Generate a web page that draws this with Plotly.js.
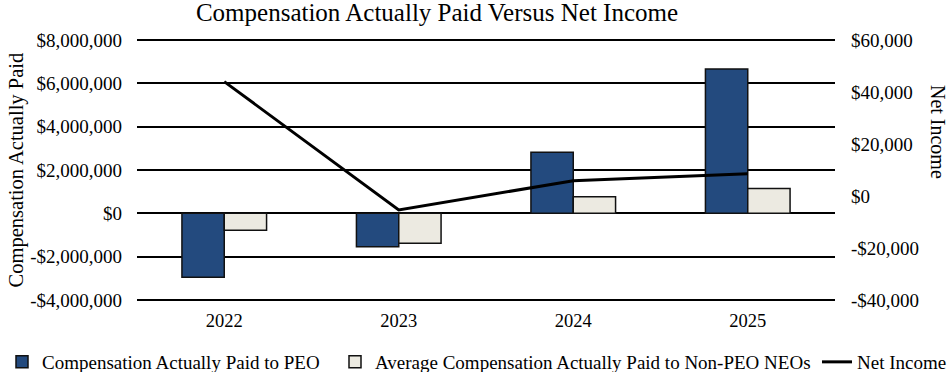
<!DOCTYPE html>
<html>
<head>
<meta charset="utf-8">
<script src="https://cdn.plot.ly/plotly-3.0.1.min.js"></script>
<style>html,body{margin:0;padding:0;background:#fff;}#chart{width:950px;height:372px;}</style>
</head>
<body>
<div id="chart"></div>
<script>
const years = ['2022', '2023', '2024', '2025'];
const capPEO = [-2950000, -1540000, 2820000, 6660000];
const capNEO = [-780000, -1380000, 770000, 1150000];
const netIncome = [44000, -5400, 5900, 8600];
const leftTicks = [-4000000, -2000000, 0, 2000000, 4000000, 6000000, 8000000];
const rightTicks = [-40000, -20000, 0, 20000, 40000, 60000];

function money(v) {
  const s = Math.abs(v).toLocaleString('en-US');
  return (v < 0 ? '-$' : '$') + s;
}

const FONT = 'Liberation Serif, Times New Roman, serif';
// pad the ranges by 2px each side so the edge gridlines are not clipped
const PAD_PX = 2, PLOT_H = 260;
const lPad = (8000000 - (-4000000)) / PLOT_H * PAD_PX;
const rPad = (60000 - (-40000)) / PLOT_H * PAD_PX;

const traces = [
  {
    type: 'bar', name: 'Compensation Actually Paid to PEO', x: years, y: capPEO, legend: 'legend',
    marker: {color: '#234A7E', line: {color: '#111111', width: 1.5}}
  },
  {
    type: 'bar', name: 'Average Compensation Actually Paid to Non-PEO NEOs', x: years, y: capNEO, legend: 'legend2',
    marker: {color: '#ECEAE1', line: {color: '#111111', width: 1.5}}
  },
  {
    type: 'scatter', mode: 'lines', name: 'Net Income', x: years, y: netIncome, yaxis: 'y2', legend: 'legend3',
    line: {color: '#000000', width: 3}
  }
];

function leg(xpx) {
  return {orientation: 'h', xref: 'container', yref: 'container', x: xpx / 950, xanchor: 'left',
          y: 10 / 372, yanchor: 'middle', font: {family: FONT, size: 19}, itemwidth: 30,
          borderwidth: 0, bgcolor: 'rgba(0,0,0,0)'};
}

const layout = {
  width: 950, height: 372,
  margin: {l: 137, r: 115, t: 40 - PAD_PX, b: 72 - PAD_PX},
  paper_bgcolor: '#ffffff', plot_bgcolor: '#ffffff',
  font: {family: FONT, color: '#000000', size: 19},
  title: {text: 'Compensation Actually Paid Versus Net Income', font: {family: FONT, size: 25, color: '#000'},
          x: 0.46, xanchor: 'center', y: 0.966, yanchor: 'middle', xref: 'container', yref: 'container'},
  barmode: 'group', bargap: 0.515, bargroupgap: 0,
  showlegend: true,
  legend: leg(2),
  legend2: leg(335),
  legend3: leg(817),
  xaxis: {type: 'category', showgrid: false, zeroline: false, showline: false, ticks: '',
          ticklabelstandoff: 5, tickfont: {family: FONT, size: 18.5}},
  yaxis: {range: [-4000000 - lPad, 8000000 + lPad], tickvals: leftTicks, ticktext: leftTicks.map(money),
          showgrid: true, gridcolor: '#000000', gridwidth: 2, zeroline: false, showline: false,
          ticks: '', ticklabelstandoff: 14, tickfont: {family: FONT, size: 19}},
  yaxis2: {range: [-40000 - rPad, 60000 + rPad], tickvals: rightTicks, ticktext: rightTicks.map(money),
           overlaying: 'y', side: 'right', showgrid: false, zeroline: false, showline: false,
           ticks: '', ticklabelstandoff: 15, tickfont: {family: FONT, size: 19}},
  annotations: [
    {text: 'Compensation Actually Paid', xref: 'paper', yref: 'paper', x: -0.172, y: 0.502,
     xanchor: 'center', yanchor: 'middle', textangle: -90, showarrow: false,
     font: {family: FONT, size: 20.5, color: '#000'}},
    {text: 'Net Income', xref: 'paper', yref: 'paper', x: 1.1476, y: 0.644,
     xanchor: 'center', yanchor: 'middle', textangle: 90, showarrow: false,
     font: {family: FONT, size: 20, color: '#000'}}
  ]
};

Plotly.newPlot('chart', traces, layout, {displayModeBar: false, staticPlot: true});
</script>
</body>
</html>
